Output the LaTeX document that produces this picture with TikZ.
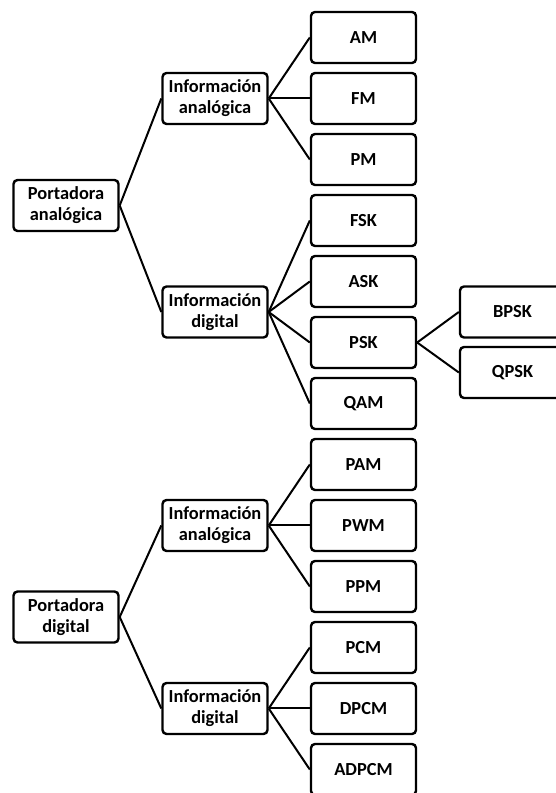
\documentclass[tikz,border=0pt]{standalone}
\usepackage{fontspec}
\setmainfont{Carlito}

\begin{document}
\begin{tikzpicture}[x=1pt,y=1pt,box/.style={draw,line width=2.4pt,rounded corners=4pt,minimum width=105pt,minimum height=51pt,inner sep=0pt,align=center,font=\fontsize{18.4}{21}\selectfont\bfseries},link/.style={line width=2pt}]
\useasboundingbox (0,0) rectangle (556,793);\clip (0,0) rectangle (556,793);
\foreach \t [count=\i from 0] in {AM,FM,PM,FSK,ASK,PSK,QAM,PAM,PWM,PPM,PCM,DPCM,ADPCM}{\node[box] (\t) at (363.5,{755.5-61*\i}) {\t};}
\node[box] (pa) at (66,587.5) {Portadora\\analógica};\node[box] (pd) at (66,176) {Portadora\\digital};
\node[box] (ia1) at (215,694.5) {Información\\analógica};\node[box] (id1) at (215,481) {Información\\digital};
\node[box] (ia2) at (215,267.5) {Información\\analógica};\node[box] (id2) at (215,84.5) {Información\\digital};
\node[box] (BPSK) at (512.5,481) {BPSK};\node[box] (QPSK) at (512.5,420.5) {QPSK};
\foreach \a/\b in {pa/ia1,pa/id1,ia1/AM,ia1/FM,ia1/PM,id1/FSK,id1/ASK,id1/PSK,id1/QAM,PSK/BPSK,PSK/QPSK,pd/ia2,pd/id2,ia2/PAM,ia2/PWM,ia2/PPM,id2/PCM,id2/DPCM,id2/ADPCM}{\draw[link] (\a.east)--(\b.west);}
\end{tikzpicture}
\end{document}
